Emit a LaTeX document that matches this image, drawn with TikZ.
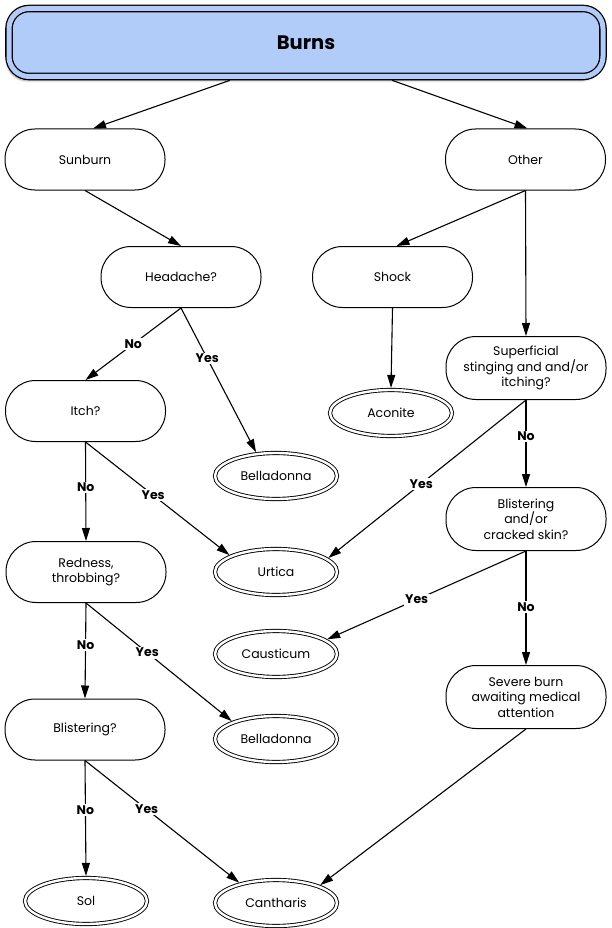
\documentclass[tikz,border=0pt]{standalone}
\usepackage{fontspec}
\setmainfont{Poppins}
\usetikzlibrary{arrows.meta,shapes.geometric,shadows.blur}
\definecolor{titleblue}{RGB}{177,204,248}
\begin{document}
\begin{tikzpicture}[x=1pt,y=-1pt,
  every node/.style={font=\fontsize{12.5}{15.5}\selectfont},
  stepbox/.style={draw, line width=1pt, rounded corners=30pt, minimum width=160pt,
    minimum height=61pt, align=center, inner sep=2pt},
  tallbox/.style={stepbox, minimum height=63pt},
  remedy/.style={ellipse, draw, line width=0.9pt, double, double distance=2.4pt,
    minimum width=122pt, minimum height=46pt, inner sep=0pt, outer sep=2.1pt},
  link/.style={line width=1.1pt, -{Triangle[length=13pt,width=8pt]}},
  answer/.style={fill=white, font=\bfseries\fontsize{12.5}{14}\selectfont, inner sep=1.5pt}]
\useasboundingbox (0,0) rectangle (612,928);

% heading
\node[draw, line width=1.3pt, double=titleblue, double distance=5pt, fill=titleblue,
  rounded corners=20pt, minimum width=594pt, minimum height=68pt, outer sep=3.8pt,
  blur shadow={shadow xshift=-2pt, shadow yshift=-4pt, shadow blur steps=6},
  font=\bfseries\fontsize{19.5}{22}\selectfont] (title) at (306,42.5) {Burns};

% questions and situations
\node[stepbox] (sunburn) at (85,159.5) {Sunburn};
\node[stepbox] (other) at (525.5,159.5) {Other};
\node[stepbox] (headache) at (181,277) {Headache?};
\node[stepbox] (shock) at (392.5,277) {Shock};
\node[stepbox] (itch) at (85.5,411) {Itch?};
\node[tallbox] (superficial) at (526,368) {Superficial\\stinging and and/or\\itching?};
\node[tallbox] (cracked) at (526,519) {Blistering\\and/or\\cracked skin?};
\node[stepbox] (redness) at (86,572) {Redness,\\throbbing?};
\node[tallbox] (severe) at (526,697) {Severe burn\\awaiting medical\\attention};
\node[stepbox] (blistering) at (85,729.5) {Blistering?};

% remedies
\node[remedy] (aconite) at (391,413) {Aconite};
\node[remedy] (bellA) at (276,476) {Belladonna};
\node[remedy] (urtica) at (276,572) {Urtica};
\node[remedy] (causticum) at (276,654) {Causticum};
\node[remedy] (bellB) at (276,739) {Belladonna};
\node[remedy] (sol) at (86,901) {Sol};
\node[remedy] (cantharis) at (276,903) {Cantharis};

% connectors
\draw[link] ([xshift=-76pt]title.south) -- ([xshift=8pt]sunburn.north);
\draw[link] ([xshift=86pt]title.south) -- ([xshift=2pt]other.north);
\draw[link] (sunburn.south) -- (headache.north);
\draw[link] (other.south) -- ([xshift=4pt]shock.north);
\draw[link] (other.south) -- (superficial.north);
\draw[link] (shock.south) -- (aconite.north);
\draw[link] (headache.south) -- node[answer, pos=.5] {No} (itch.north);
\draw[link] (headache.south) -- node[answer, pos=.35] {Yes} (bellA.130);
\draw[link] (itch.south) -- node[answer, pos=.46] {No} (redness.north);
\draw[link] (itch.south) -- node[answer, pos=.47] {Yes} (urtica.160);
\draw[link] (superficial.south) -- node[answer, pos=.42] {No} (cracked.north);
\draw[link] (superficial.south) -- node[answer, pos=.53] {Yes} (urtica.15);
\draw[link] (cracked.south) -- node[answer, pos=.49] {No} (severe.north);
\draw[link] (cracked.south) -- node[answer, pos=.55] {Yes} (causticum.16);
\draw[link] (redness.south) -- node[answer, pos=.44] {No} (blistering.north);
\draw[link] (redness.south) -- node[answer, pos=.42] {Yes} (bellB.158);
\draw[link] (blistering.south) -- node[answer, pos=.43] {No} (sol.north);
\draw[link] (blistering.south) -- node[answer, pos=.4] {Yes} (cantharis.151);
\draw[link] (severe.south) -- (cantharis.22);
\end{tikzpicture}
\end{document}
